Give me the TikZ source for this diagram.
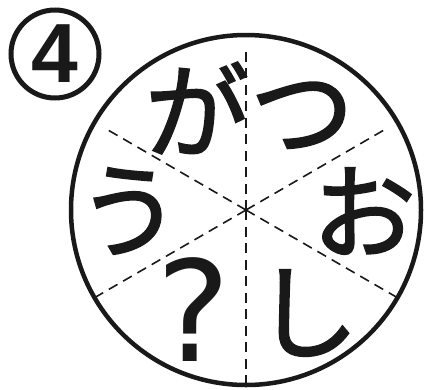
\documentclass[tikz,border=0pt]{standalone}
\usepackage{fontspec}
\newfontfamily\jp{Noto Sans CJK JP}[FakeBold=1.8]
\newfontfamily\numfont{Liberation Sans}
\newfontfamily\qfont{DejaVu Sans}
\begin{document}
\begin{tikzpicture}[x=1pt,y=-1pt,
  rim/.style={line width=4.5pt,draw=black!90},
  divider/.style={line width=1.6pt,draw=black!90,dash pattern=on 10pt off 6.5pt},
  kana/.style={inner sep=0pt,font=\jp\fontsize{104}{104}\selectfont,text=black!90}]
\useasboundingbox (0,0) rectangle (425,389);
\coordinate (c) at (246,210);
% number badge
\node[circle,draw=black!90,line width=5pt,minimum size=88pt,inner sep=0pt] (badge) at (55,54) {};
\node[inner sep=0pt,font=\numfont\bfseries\fontsize{84}{84}\selectfont,text=black!90] (four) at (badge.center) {4};
% big circle
\node[circle,rim,minimum size=350pt,inner sep=0pt] (wheel) at (c) {};
% dividers
\draw[divider] (c) -- ++(0,-158);
\draw[divider] (c) -- ++(0,177);
\draw[divider] (c) -- ++(-138,-80);
\draw[divider] (c) -- ++(138,-80);
\draw[divider] (c) -- ++(-152,88);
\draw[divider] (c) -- ++(152,88);
% letters
\node[kana] (ga) at (197,108) {が};
\node[kana] (tsu) at (302,116) {つ};
\node[kana] (u) at (129,211) {う};
\node[kana] (o) at (364,211) {お};
\node[kana,font=\qfont\fontsize{140}{140}\selectfont] (q) at (194,310) {?};
\node[kana] (shi) at (307,313) {し};
\end{tikzpicture}
\end{document}
